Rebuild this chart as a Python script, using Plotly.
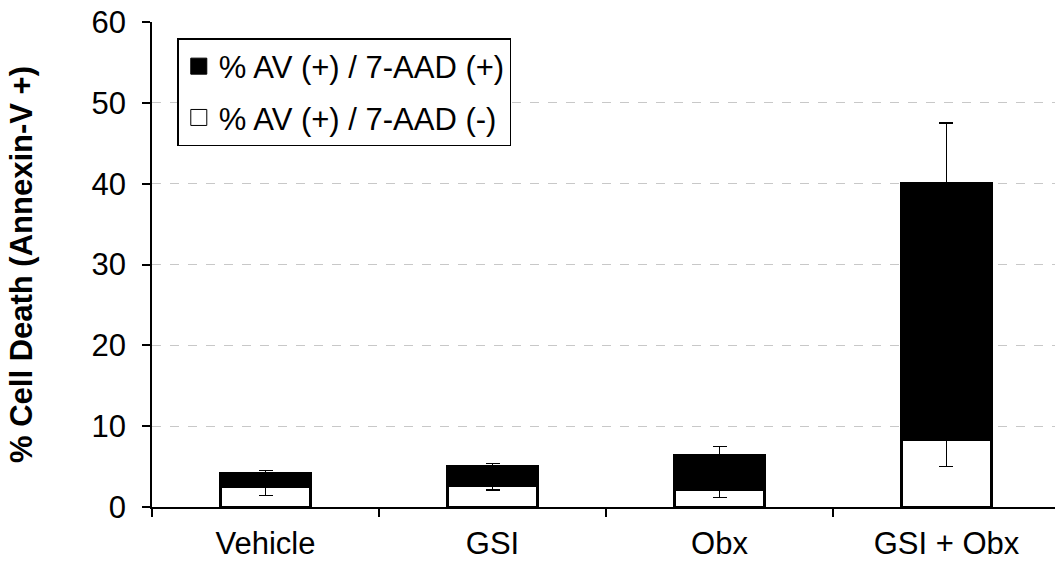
import plotly.graph_objects as go

categories = ["Vehicle", "GSI", "Obx", "GSI + Obx"]
av_pos_aad_neg = [2.5, 2.7, 2.2, 8.3]        # white, bottom segment
av_pos_aad_pos = [1.6, 2.3, 4.2, 31.7]       # black, top segment
err_neg = [1.1, 0.6, 1.0, 3.3]               # error (minus) on white segment
err_pos = [0.4, 0.4, 1.1, 7.5]               # error (plus) on stacked total
name_neg = "% AV (+) / 7-AAD (-)"
name_pos = "% AV (+) / 7-AAD (+)"

FONT = "Liberation Sans, Arial, sans-serif"
FS = 31

fig = go.Figure()
fig.add_trace(go.Bar(
    x=categories, y=av_pos_aad_neg, name=name_neg, showlegend=False,
    marker=dict(color="white", line=dict(color="black", width=3)),
    width=0.4,
    error_y=dict(type="data", symmetric=False,
                 array=[0] * len(err_neg), arrayminus=err_neg,
                 color="black", thickness=1.5, width=7),
))
fig.add_trace(go.Bar(
    x=categories, y=av_pos_aad_pos, name=name_pos, showlegend=False,
    marker=dict(color="black", line=dict(color="black", width=3)),
    width=0.4,
    error_y=dict(type="data", symmetric=False,
                 array=err_pos, arrayminus=[0] * len(err_pos),
                 color="black", thickness=1.5, width=7),
))
# legend entries (square swatches)
fig.add_trace(go.Scatter(
    x=[None], y=[None], mode="markers", name=name_pos, legendgroup="a",
    marker=dict(symbol="square", size=16, color="black",
                line=dict(color="black", width=1)),
))
fig.add_trace(go.Scatter(
    x=[None], y=[None], mode="markers", name=name_neg, legendgroup="b",
    marker=dict(symbol="square", size=16, color="white",
                line=dict(color="black", width=1)),
))

fig.update_layout(
    barmode="stack",
    width=1055, height=564,
    margin=dict(l=152, r=0, t=22, b=57),
    plot_bgcolor="white", paper_bgcolor="white",
    font=dict(family=FONT, size=FS, color="black"),
    legend=dict(
        x=0.028, y=0.967, xanchor="left", yanchor="top",
        traceorder="grouped", tracegroupgap=8,
        bordercolor="black", borderwidth=1.5, bgcolor="white",
        itemwidth=30,
        font=dict(family=FONT, size=FS, color="black"),
    ),
    xaxis=dict(
        range=[-0.5, 3.478], showline=True, linecolor="black", linewidth=2,
        ticks="outside", tickson="boundaries", ticklen=8, tickcolor="black",
        tickwidth=1.5, showgrid=False, ticklabelstandoff=8,
    ),
    yaxis=dict(
        range=[0, 60], tickvals=[0, 10, 20, 30, 40, 50, 60],
        showline=True, linecolor="black", linewidth=1.5,
        ticks="outside", ticklen=8, tickcolor="black", tickwidth=1.5,
        showgrid=True, gridcolor="#c8c8c8", griddash="dash", gridwidth=1,
        zeroline=False, ticklabelstandoff=10,
        title=dict(text="<b>% Cell Death (Annexin-V +)</b>", standoff=50,
                   font=dict(family=FONT, size=FS)),
    ),
)

fig.write_html("out.html")
